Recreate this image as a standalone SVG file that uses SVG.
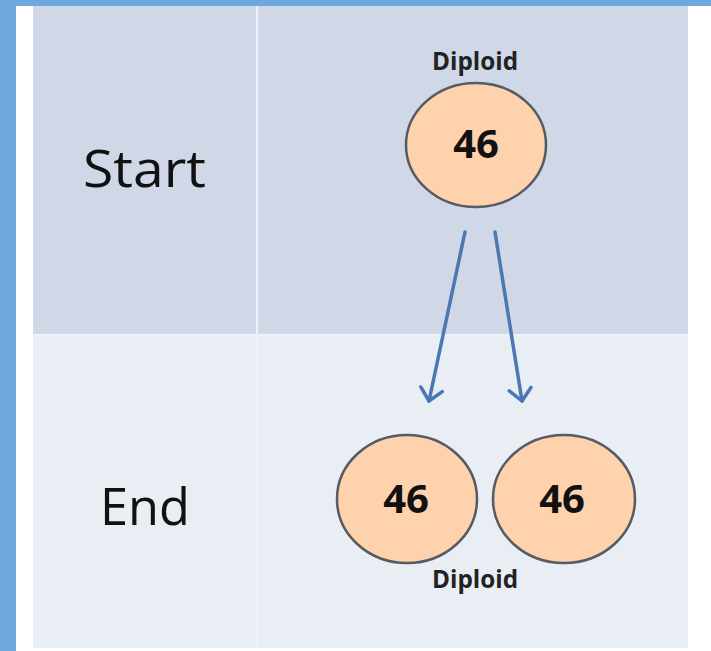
<svg xmlns="http://www.w3.org/2000/svg" width="711" height="651" viewBox="0 0 711 651">
  <style>
    .cell-top { fill: #d0d8e8; }
    .cell-bot { fill: #e9edf4; }
    .grid { stroke: #eef1f7; stroke-width: 2; }
    .rowlabel { font-family: "Open Sans", "Noto Sans", sans-serif; font-size: 52px; fill: #111; }
    .cell { fill: #fdd2ad; stroke: #555a63; stroke-width: 2.5; }
    .num { font-family: "Open Sans", "Noto Sans", sans-serif; font-weight: bold; font-size: 40px; fill: #111; text-anchor: middle; }
    .lbl { font-family: "Open Sans", "Noto Sans", sans-serif; font-weight: bold; font-size: 25px; fill: #222; text-anchor: middle; }
    .arrow { stroke: #4a78b0; stroke-width: 3.5; fill: none; stroke-linecap: round; }
  </style>
  <defs>
    <marker id="chev" viewBox="0 0 26 26" refX="14" refY="13" markerWidth="26" markerHeight="26" orient="auto" markerUnits="userSpaceOnUse">
      <path d="M2,2 L14,13 L2,24" fill="none" stroke="#4a78b0" stroke-width="3.5" stroke-linecap="round" stroke-linejoin="round"/>
    </marker>
  </defs>
  <rect x="0" y="0" width="711" height="651" fill="#ffffff"/>
  <rect x="0" y="0" width="711" height="6" fill="#6fa8dc"/>
  <rect x="0" y="0" width="16" height="651" fill="#6fa8dc"/>

  <g id="table">
    <rect class="cell-top" x="33" y="6" width="655" height="328"/>
    <rect class="cell-bot" x="33" y="334" width="655" height="314"/>
    <line class="grid" x1="257" y1="6" x2="257" y2="648"/>
    <line class="grid" x1="33" y1="335" x2="688" y2="335"/>
  </g>

  <g id="label-start">
    <text class="rowlabel" x="83" y="187" textLength="123" lengthAdjust="spacingAndGlyphs">Start</text>
  </g>
  <g id="label-end">
    <text class="rowlabel" x="100" y="525" textLength="90" lengthAdjust="spacingAndGlyphs">End</text>
  </g>

  <g id="connectors">
    <line class="arrow" x1="465" y1="232" x2="429" y2="401" marker-end="url(#chev)"/>
    <line class="arrow" x1="495" y1="232" x2="522" y2="401" marker-end="url(#chev)"/>
  </g>

  <g id="parent-cell">
    <text class="lbl" x="475" y="70" textLength="86" lengthAdjust="spacingAndGlyphs">Diploid</text>
    <ellipse class="cell" cx="476" cy="145" rx="70" ry="62"/>
    <text class="num" x="476" y="158">46</text>
  </g>

  <g id="daughter-cell-1">
    <ellipse class="cell" cx="407" cy="499" rx="70" ry="64"/>
    <text class="num" x="406" y="513">46</text>
  </g>
  <g id="daughter-cell-2">
    <ellipse class="cell" cx="564" cy="499" rx="71" ry="64"/>
    <text class="num" x="562" y="513">46</text>
  </g>
  <g id="label-diploid-end">
    <text class="lbl" x="475" y="588" textLength="86" lengthAdjust="spacingAndGlyphs">Diploid</text>
  </g>
</svg>
